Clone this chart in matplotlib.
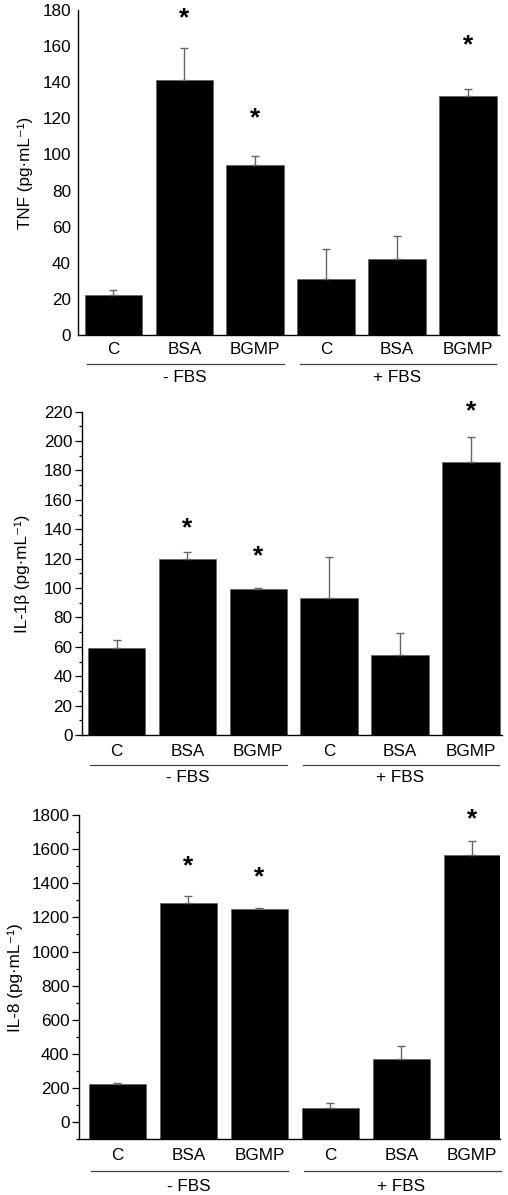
import matplotlib
matplotlib.use("Agg")
import matplotlib.pyplot as plt
import numpy as np
from matplotlib.transforms import blended_transform_factory, ScaledTranslation
from matplotlib.ticker import MultipleLocator

plt.rcParams["font.family"] = ["Liberation Sans", "DejaVu Sans"]

categories = ["C", "BSA", "BGMP", "C", "BSA", "BGMP"]
groups = ["- FBS", "+ FBS"]

tnf_mean = [22, 141.5, 94, 31, 42, 132.5]
tnf_err = [2.7, 17.5, 5, 16.4, 12.6, 3.5]
tnf_star = [None, 177.4, 121.8, None, None, 162.4]

il1b_mean = [59.5, 119.7, 99.5, 93, 54.5, 186]
il1b_err = [5.2, 4.7, 0.5, 28, 14.8, 16.7]
il1b_star = [None, 143, 123.8, None, None, 222.5]

il8_mean = [225, 1287, 1248, 86, 369, 1564]
il8_err = [3, 37, 6, 25, 78, 82]
il8_star = [None, 1517, 1455, None, None, 1794]

W, H = 508, 1195
fig = plt.figure(figsize=(W / 100, H / 100), dpi=100)

FS = 12.3
STAR_FS = 19


def panel(rect, means, errs, stars, ylabel, ylim, xlim, major, minor, ticks_on,
          label_x, offsets):
    ax = fig.add_axes(rect)
    x = np.arange(len(means))
    base = ylim[0]
    ax.bar(x, np.array(means) - base, bottom=base, width=0.81, color="black",
           edgecolor="#555555", linewidth=0.4, zorder=2)
    ax.errorbar(x, means, yerr=[np.zeros(len(errs)), errs], fmt="none",
                ecolor="#666666", elinewidth=1.0, capsize=2.6, capthick=1.0, zorder=3)
    # shift so the asterisk glyph is centred on its value
    star_tr = ax.transData + ScaledTranslation(0, -0.39 * STAR_FS / 72, fig.dpi_scale_trans)
    for xi, s in zip(x, stars):
        if s is not None:
            ax.text(xi, s, "*", ha="center", va="baseline", fontsize=STAR_FS,
                    fontweight="bold", zorder=4, transform=star_tr, clip_on=False)
    ax.set_xlim(*xlim)
    for side in ("top", "right"):
        ax.spines[side].set_visible(False)
    for side in ("left", "bottom"):
        ax.spines[side].set_linewidth(1.0)
    ax.set_xticks([])
    ax.yaxis.set_major_locator(MultipleLocator(major))
    if ticks_on:
        ax.yaxis.set_minor_locator(MultipleLocator(minor))
        ax.tick_params(axis="y", which="major", length=5, width=0.9, pad=1.8,
                       labelsize=FS)
        ax.tick_params(axis="y", which="minor", length=2.4, width=0.9)
        ax.set_yticks(np.arange(0, ylim[1] + 1, major))
    else:
        ax.tick_params(axis="y", length=0, pad=5.0, labelsize=FS)
    ax.set_ylim(ylim[0], ylim[1])

    cat_off, line_off, grp_off = offsets
    tr = blended_transform_factory(ax.transData, ax.transAxes)
    for xi, c in zip(x, categories):
        ax.text(xi, 0, c, ha="center", va="center", fontsize=FS, clip_on=False,
                transform=tr + ScaledTranslation(0, -cat_off / 100, fig.dpi_scale_trans))
    for gi, g in enumerate(groups):
        lo, hi = gi * 3, gi * 3 + 2
        ax.plot([lo - 0.37, hi + 0.4], [0, 0], color="#444444", lw=0.9, clip_on=False,
                transform=tr + ScaledTranslation(0, -line_off / 100, fig.dpi_scale_trans))
        ax.text((lo + hi) / 2, 0, g, ha="center", va="center", fontsize=FS, clip_on=False,
                transform=tr + ScaledTranslation(0, -grp_off / 100, fig.dpi_scale_trans))

    box = ax.get_position()
    fig.text(label_x / W, box.y0 + box.height / 2, ylabel, rotation=90,
             ha="center", va="center", fontsize=FS)
    return ax


panel([78 / W, 1 - 335 / H, 421 / W, 325 / H], tnf_mean, tnf_err, tnf_star,
      "TNF (pg·mL⁻¹)", (0, 180), (-0.5, 5.44), 20, 10, False, 25, (15, 29, 43))
panel([82 / W, 1 - 735 / H, 420 / W, 323.3 / H], il1b_mean, il1b_err, il1b_star,
      "IL-1β (pg·mL⁻¹)", (0, 220), (-0.487, 5.44), 20, 10, True, 22, (16.5, 30, 42.5))
panel([79 / W, 1 - 1139.3 / H, 421 / W, 324.3 / H], il8_mean, il8_err, il8_star,
      "IL-8 (pg·mL⁻¹)", (-100, 1800), (-0.54, 5.39), 200, 100, True, 15, (16, 31.5, 47))

fig.savefig("out.png", dpi=100)
